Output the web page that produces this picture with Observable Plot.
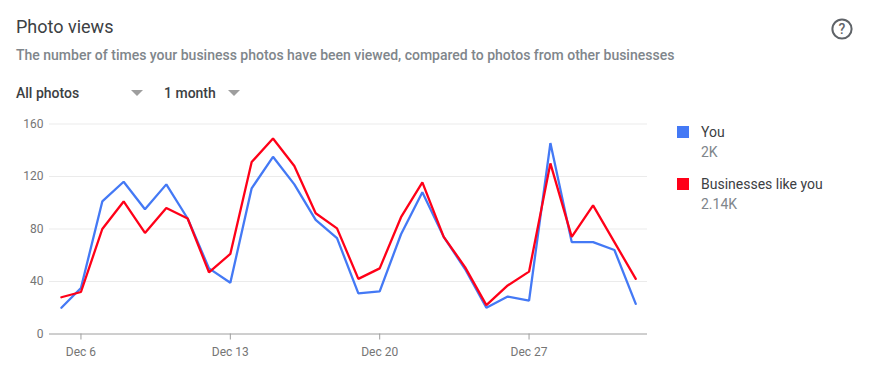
<!DOCTYPE html>
<html>
<head>
<meta charset="utf-8">
<script src="https://cdn.jsdelivr.net/npm/d3@7"></script>
<script src="https://cdn.jsdelivr.net/npm/@observablehq/plot@0.6"></script>
<style>
html,body{margin:0;padding:0;background:#fff;}
body{width:886px;height:374px;overflow:hidden;position:relative;font-family:Roboto,sans-serif;}
.t{position:absolute;white-space:nowrap;line-height:20px;}
.tri{position:absolute;width:0;height:0;border-left:6px solid transparent;border-right:6px solid transparent;border-top:6px solid #9e9e9e;}
.sw{position:absolute;left:677px;width:12px;height:12px;}
#chart{position:absolute;left:0;top:110px;}
#chart svg{display:block;}
</style>
</head>
<body>
<div class="t" style="left:16px;top:17px;font-size:18px;color:#3c4043;">Photo views</div>
<div class="t" style="left:16px;top:45px;font-size:14px;font-weight:500;color:#80868b;" id="sub">The number of times your business photos have been viewed, compared to photos from other businesses</div>
<div class="t" style="left:16px;top:83px;font-size:14px;font-weight:500;color:#3c4043;">All photos</div>
<div class="tri" style="left:131px;top:90px;"></div>
<div class="t" style="left:164px;top:83px;font-size:14px;font-weight:500;color:#3c4043;">1 month</div>
<div class="tri" style="left:228px;top:90px;"></div>
<svg style="position:absolute;left:830px;top:17px;" width="24" height="24">
  <circle cx="12" cy="12" r="9.6" fill="none" stroke="#5f6368" stroke-width="2"></circle>
  <text x="12" y="17" text-anchor="middle" font-family="Roboto" font-size="14" font-weight="500" fill="#5f6368">?</text>
</svg>
<div id="chart"></div>
<div class="sw" style="top:126px;background:#4479f5;"></div>
<div class="t" style="left:701px;top:122px;font-size:14px;color:#3c4043;">You</div>
<div class="t" style="left:701px;top:142px;font-size:14px;color:#80868b;">2K</div>
<div class="sw" style="top:178px;background:#ff0018;"></div>
<div class="t" style="left:701px;top:174px;font-size:14px;color:#3c4043;">Businesses like you</div>
<div class="t" style="left:701px;top:194px;font-size:14px;color:#80868b;">2.14K</div>
<script>
const dates = ["2020-12-05T02:00","2020-12-06","2020-12-07","2020-12-08","2020-12-09","2020-12-10","2020-12-11","2020-12-12","2020-12-13","2020-12-14","2020-12-15","2020-12-16","2020-12-17","2020-12-18","2020-12-19","2020-12-20","2020-12-21","2020-12-22","2020-12-23","2020-12-24","2020-12-25","2020-12-26","2020-12-27","2020-12-28","2020-12-29","2020-12-30","2020-12-31","2021-01-01"];
const you = [20,35,101,116,95,114,88,50,39,111,135,114,87,73,31,32.5,76,108,74,49.5,20,28.5,25.5,145.5,70,70,64,23];
const others = [28,32,80,101,77,96,88,47,61,131,149,128,92,80.5,42,50,89,115.5,74,51,22,37,47.5,130,74,98,70,42];
const yTicks = [0,40,80,120,160];
const xTicks = ["2020-12-06","2020-12-13","2020-12-20","2020-12-27"];
const xDomain = ["2020-12-04T12:37","2021-01-01T13:13"];
const colors = {you:"#4479f5", others:"#ff0018"};

const d = s => new Date(s.length===10 ? s+"T00:00:00Z" : s+":00Z");
const toRows = arr => dates.map((t,i)=>({x:d(t), y:arr[i]}));
const fmt = t => d3.utcFormat("%b %-d")(t);

const chart = Plot.plot({
  width: 660, height: 250,
  marginLeft: 49, marginRight: 13, marginTop: 13.5, marginBottom: 26.5,
  style:{fontFamily:"Roboto, sans-serif", fontSize:"12px", background:"transparent"},
  x:{type:"utc", domain:xDomain.map(d)},
  y:{domain:[0,160]},
  marks:[
    Plot.gridY(yTicks.slice(1),{stroke:"#ebebeb", strokeOpacity:1, strokeWidth:1}),
    Plot.axisY({ticks:yTicks, tickSize:0, tickPadding:6, label:null, fill:"#757575", fontSize:12}),
    Plot.axisX({ticks:xTicks.map(d), tickSize:6, tickPadding:7, tickFormat:fmt, label:null, fill:"#757575", stroke:"#9e9e9e", fontSize:12}),
    Plot.ruleY([0],{stroke:"#9e9e9e", strokeWidth:1}),
    Plot.lineY(toRows(you),{x:"x",y:"y",stroke:colors.you,strokeWidth:2.3,strokeLinejoin:"miter"}),
    Plot.lineY(toRows(others),{x:"x",y:"y",stroke:colors.others,strokeWidth:2.3,strokeLinejoin:"miter"})
  ]
});
document.getElementById("chart").appendChild(chart);
</script>
</body>
</html>
